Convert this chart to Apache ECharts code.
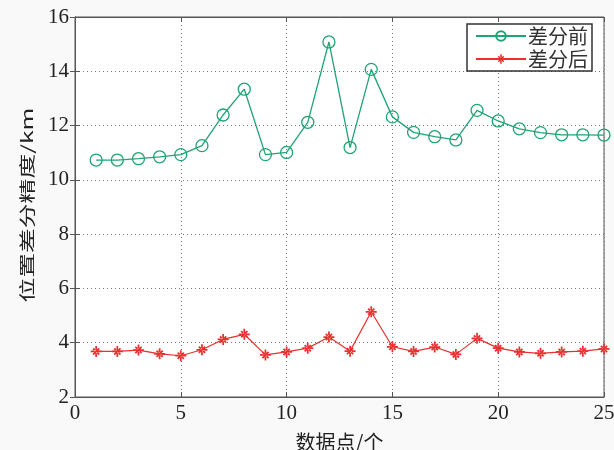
<!DOCTYPE html>
<html><head><meta charset="utf-8">
<script src="https://cdn.jsdelivr.net/npm/echarts@6/dist/echarts.min.js"></script>
<style>html,body{margin:0;padding:0;background:#f9f9f9}#c{width:614px;height:450px}</style>
</head><body><div id="c"></div>
<script>
const xPoints = [1,2,3,4,5,6,7,8,9,10,11,12,13,14,15,16,17,18,19,20,21,22,23,24,25];
const before = [10.73,10.73,10.78,10.85,10.93,11.26,12.39,13.34,10.93,11.01,12.12,15.08,11.19,14.07,12.32,11.75,11.59,11.47,12.56,12.17,11.88,11.74,11.66,11.66,11.65];
const after = [3.68,3.68,3.73,3.59,3.52,3.74,4.12,4.31,3.55,3.66,3.80,4.21,3.69,5.14,3.85,3.68,3.84,3.57,4.16,3.80,3.66,3.61,3.66,3.69,3.77];
const seriesNames = ['差分前','差分后'];
const xName = '数据点/个';
const yName = '位置差分精度/km';

const star = 'path://M-0.8 -5 L0.8 -5 L0.8 5 L-0.8 5Z M-5 -0.8 L5 -0.8 L5 0.8 L-5 0.8Z M2.26 3.40 L3.40 2.26 L-2.26 -3.40 L-3.40 -2.26Z M-2.26 3.40 L-3.40 2.26 L2.26 -3.40 L3.40 -2.26Z';
const serif = 'Liberation Serif';
const cjk = 'Noto Sans CJK SC';
const green = '#1fa474', red = '#e8312f';
const chart = echarts.init(document.getElementById('c'));
const axisLine = {show:true, lineStyle:{color:'#555', width:1}};
chart.setOption({
  backgroundColor:'#f9f9f9',
  animation:false,
  grid:{left:75, right:10, top:17, bottom:53, containLabel:false, outerBoundsMode:'none',
        show:true, backgroundColor:'#ffffff', borderColor:'#555', borderWidth:1},
  legend:{
    orient:'vertical', left:467, top:24, width:129,
    padding:[2,4,2,8], itemGap:3, itemWidth:50, itemHeight:12,
    borderColor:'#333', borderWidth:1.5, backgroundColor:'#ffffff',
    textStyle:{fontFamily:cjk, fontSize:20, color:'#333', padding:[0,0,0,-3]},
    data:seriesNames
  },
  graphic:[{
    type:'text', x:27, y:205, rotation:Math.PI/2, scaleX:1.55, scaleY:1,
    style:{text:yName, fontFamily:cjk, fontSize:16, fill:'#222', align:'center', verticalAlign:'middle'}
  }],
  xAxis:[
    {type:'value', min:0, max:25, interval:5, axisLine,
     axisTick:{inside:true, length:5, lineStyle:{color:'#555'}},
     axisLabel:{fontFamily:serif, fontSize:21, color:'#222', margin:6},
     splitLine:{show:true, lineStyle:{color:'#777', type:[1,3], width:1}},
     name:xName, nameLocation:'middle', nameGap:35,
     nameTextStyle:{fontFamily:cjk, fontSize:20, color:'#222'}},
    {type:'value', position:'top', min:0, max:25, interval:5, axisLine,
     axisTick:{inside:true, length:5, lineStyle:{color:'#555'}},
     axisLabel:{show:false}, splitLine:{show:false}}
  ],
  yAxis:[
    {type:'value', min:2, max:16, interval:2, axisLine,
     axisTick:{inside:true, length:5, lineStyle:{color:'#555'}},
     axisLabel:{fontFamily:serif, fontSize:21, color:'#222', margin:6},
     splitLine:{show:true, lineStyle:{color:'#777', type:[1,3], width:1}}},
    {type:'value', position:'right', min:2, max:16, interval:2, axisLine,
     axisTick:{inside:true, length:5, lineStyle:{color:'#555'}},
     axisLabel:{show:false}, splitLine:{show:false}}
  ],
  series:[
    {name:seriesNames[0], type:'line', data:xPoints.map((x,i)=>[x,before[i]]),
     symbol:'circle', symbolSize:12, color:green,
     lineStyle:{width:1.3, color:green},
     itemStyle:{color:'rgba(0,0,0,0)', borderColor:green, borderWidth:1.3}},
    {name:seriesNames[1], type:'line', data:xPoints.map((x,i)=>[x,after[i]]),
     symbol:star, symbolSize:11, symbolKeepAspect:true, color:red,
     lineStyle:{width:1.2, color:red},
     itemStyle:{color:red}}
  ]
});
</script></body></html>
